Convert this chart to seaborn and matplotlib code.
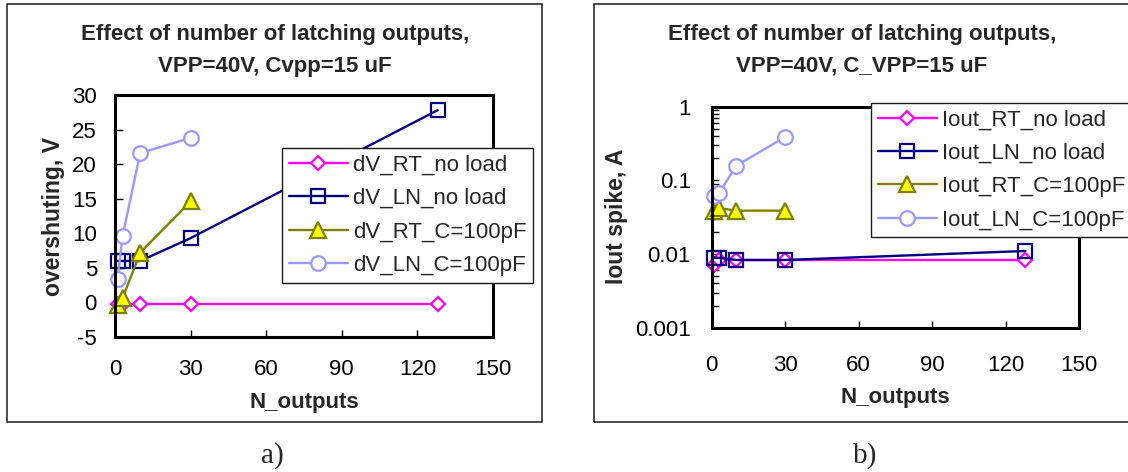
import matplotlib
matplotlib.use("Agg")
import matplotlib.pyplot as plt
import seaborn as sns
from matplotlib.patches import Rectangle
from matplotlib.ticker import FixedLocator, FixedFormatter, LogLocator, NullFormatter

# ---- data -------------------------------------------------------------
n_outputs = [1, 3, 10, 30, 128]
n_outputs_c = [1, 3, 10, 30]

# a) overshoot voltage, V
dv_rt_no_load = [-0.25, -0.25, -0.25, -0.25, -0.25]
dv_ln_no_load = [6.0, 6.0, 6.0, 9.3, 27.8]
dv_rt_c100 = [-0.4, 0.6, 7.2, 14.6]
dv_ln_c100 = [3.4, 9.6, 21.6, 23.8]

# b) output current spike, A
iout_rt_no_load = [0.0072, 0.0084, 0.0083, 0.0083, 0.0083]
iout_ln_no_load = [0.0089, 0.0089, 0.0083, 0.0083, 0.011]
iout_rt_c100 = [0.0388, 0.042, 0.0388, 0.0388]
iout_ln_c100 = [0.0607, 0.0675, 0.158, 0.388]

labels_a = ["dV_RT_no load", "dV_LN_no load", "dV_RT_C=100pF", "dV_LN_C=100pF"]
labels_b = ["Iout_RT_no load", "Iout_LN_no load", "Iout_RT_C=100pF", "Iout_LN_C=100pF"]
x_ticks = [0, 30, 60, 90, 120, 150]
y_ticks_a = [-5, 0, 5, 10, 15, 20, 25, 30]
y_ticks_b = [0.001, 0.01, 0.1, 1]
y_tick_labels_b = ["0.001", "0.01", "0.1", "1"]

# ---- style ------------------------------------------------------------
sns.set_theme(style="white")
plt.rcParams["font.family"] = ["Liberation Sans", "DejaVu Sans"]
plt.rcParams["axes.unicode_minus"] = False

W, H = 1128, 472
fig = plt.figure(figsize=(W / 100, H / 100), dpi=100)
fig.patch.set_facecolor("white")


def fx(px):
    return px / W


def fy(py):
    return 1 - py / H


series_styles = [
    dict(color="#FF00FF", marker="D", markersize=7.5, markerfacecolor="white", markeredgecolor="#FF00FF"),
    dict(color="#000080", marker="s", markersize=9.5, markerfacecolor="none", markeredgecolor="#000080"),
    dict(color="#808000", marker="^", markersize=11, markerfacecolor="#FFFF00", markeredgecolor="#808000"),
    dict(color="#9999FF", marker="o", markersize=10.5, markerfacecolor="white", markeredgecolor="#9999FF"),
]

# panel frames
fig.add_artist(Rectangle((fx(7), fy(421.5)), fx(542 - 7), (421.5 - 4) / H,
                         transform=fig.transFigure, fill=False, edgecolor="#1a1a1a", linewidth=1.1))
fig.add_artist(Rectangle((fx(594.5), fy(421.5)), fx(1140 - 594.5), (421.5 - 4) / H,
                         transform=fig.transFigure, fill=False, edgecolor="#1a1a1a", linewidth=1.1))

ax_a = fig.add_axes([fx(115), fy(337), fx(493 - 115), (337 - 95) / H])
ax_b = fig.add_axes([fx(711.7), fy(327.7), fx(1079.3 - 711.7), (327.7 - 106.7) / H])

series_a = [(n_outputs, dv_rt_no_load), (n_outputs, dv_ln_no_load),
            (n_outputs_c, dv_rt_c100), (n_outputs_c, dv_ln_c100)]
series_b = [(n_outputs, iout_rt_no_load), (n_outputs, iout_ln_no_load),
            (n_outputs_c, iout_rt_c100), (n_outputs_c, iout_ln_c100)]

ax_b.set_yscale("log")

for ax, series, labels in [(ax_a, series_a, labels_a), (ax_b, series_b, labels_b)]:
    for (xs, ys), lab, st in zip(series, labels, series_styles):
        sns.lineplot(x=xs, y=ys, ax=ax, label=lab, linewidth=1.7,
                     markeredgewidth=1.6, clip_on=False, estimator=None,
                     sort=False, **st)
    ax.set_xlim(0, 150)
    ax.xaxis.set_major_locator(FixedLocator(x_ticks))
    for sp in ax.spines.values():
        sp.set_visible(True)
        sp.set_color("black")
        sp.set_linewidth(2.2)
    ax.set_facecolor("white")
    ax.grid(False)

# panel a axes
ax_a.set_ylim(-5, 30)
ax_a.yaxis.set_major_locator(FixedLocator(y_ticks_a))
ax_a.tick_params(axis="x", which="major", direction="in", length=5, width=1,
                 labelsize=16, pad=16, colors="black", bottom=True)
ax_a.tick_params(axis="y", which="major", direction="in", length=6, width=1,
                 labelsize=16, pad=13, colors="black", left=True)

# panel b axes
ax_b.set_ylim(0.001, 1)
ax_b.yaxis.set_major_locator(FixedLocator(y_ticks_b))
ax_b.yaxis.set_major_formatter(FixedFormatter(y_tick_labels_b))
ax_b.yaxis.set_minor_locator(LogLocator(base=10, subs=range(2, 10)))
ax_b.yaxis.set_minor_formatter(NullFormatter())
ax_b.tick_params(axis="x", which="major", direction="in", length=5, width=1,
                 labelsize=16, pad=20, colors="black", bottom=True)
ax_b.tick_params(axis="y", which="both", direction="in", length=5, width=1,
                 labelsize=16, pad=15, colors="black", left=True)

# axis labels
ax_a.set_xlabel("N_outputs", fontsize=16, fontweight="bold", va="baseline")
ax_a.xaxis.set_label_coords(fx(304), fy(408), transform=fig.transFigure)
ax_a.set_ylabel("overshuting, V", fontsize=16.5, fontweight="bold", va="center")
ax_a.yaxis.set_label_coords(fx(53.6), fy(216), transform=fig.transFigure)

ax_b.set_xlabel("N_outputs", fontsize=16, fontweight="bold", va="baseline")
ax_b.xaxis.set_label_coords(fx(895.5), fy(403), transform=fig.transFigure)
ax_b.set_ylabel("Iout spike, A", fontsize=16.5, fontweight="bold", va="center")
ax_b.yaxis.set_label_coords(fx(617), fy(216), transform=fig.transFigure)

# titles
fig.text(fx(275), fy(40), "Effect of number of latching outputs,", ha="center",
         va="baseline", fontsize=16, fontweight="bold")
fig.text(fx(275), fy(71.7), "VPP=40V, Cvpp=15 uF", ha="center",
         va="baseline", fontsize=16, fontweight="bold")
fig.text(fx(862), fy(40), "Effect of number of latching outputs,", ha="center",
         va="baseline", fontsize=16, fontweight="bold")
fig.text(fx(862), fy(71.7), "VPP=40V, C_VPP=15 uF", ha="center",
         va="baseline", fontsize=16, fontweight="bold")

# legends
for ax, corner in [(ax_a, (282, 148)), (ax_b, (871, 102.7))]:
    leg = ax.legend(loc="upper left", bbox_to_anchor=(fx(corner[0]), fy(corner[1])),
                    bbox_transform=fig.transFigure, borderaxespad=0, fontsize=16,
                    frameon=True, fancybox=False, shadow=False, framealpha=1,
                    edgecolor="#1a1a1a", handlelength=2.65, handletextpad=0.25,
                    labelspacing=0.56, borderpad=0.3)
    leg.get_frame().set_linewidth(1.0)

# panel captions
fig.text(fx(272), fy(463), "a)", ha="center", va="baseline", fontsize=21,
         family=["Liberation Serif", "DejaVu Serif"])
fig.text(fx(865), fy(463), "b)", ha="center", va="baseline", fontsize=21,
         family=["Liberation Serif", "DejaVu Serif"])

fig.savefig("out.png", dpi=100, facecolor="white")
